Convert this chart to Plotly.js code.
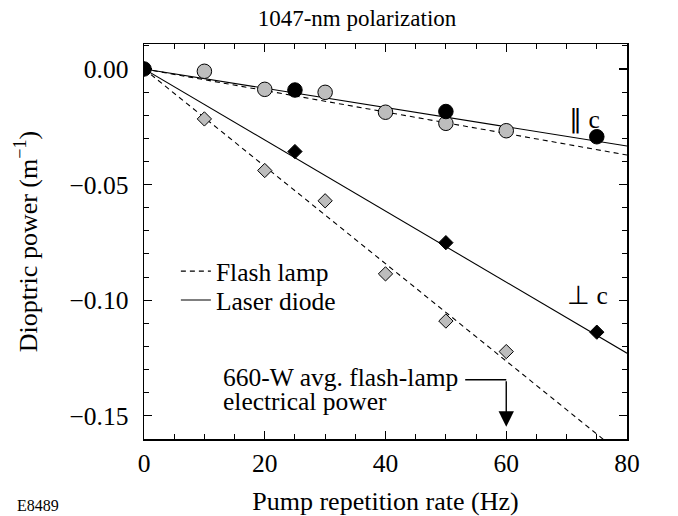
<!DOCTYPE html>
<html>
<head>
<meta charset="utf-8">
<script src="https://cdn.plot.ly/plotly-3.0.1.min.js"></script>
<style>html,body{margin:0;padding:0;background:#fff;}#chart{width:678px;height:516px;}</style>
</head>
<body>
<div id="chart"></div>
<script>
// ---- data ----
const flashParX = [10, 20, 30, 40, 50, 60];
const flashParY = [-0.0010, -0.0088, -0.0101, -0.0187, -0.0235, -0.0267];
const laserParX = [0, 25, 50, 75];
const laserParY = [0.0000, -0.0091, -0.0184, -0.0293];
const flashPerpX = [10, 20, 30, 40, 50, 60];
const flashPerpY = [-0.0216, -0.0439, -0.0570, -0.0886, -0.1090, -0.1222];
const laserPerpX = [0, 25, 50, 75];
const laserPerpY = [0.0000, -0.0357, -0.0751, -0.1138];
// fitted lines (endpoints)
const fitX = [0, 80];
const fitFlashParY = [0, -0.0372];
const fitLaserParY = [0, -0.0333];
const fitFlashPerpY = [0, -0.1684];
const fitLaserPerpY = [0, -0.1229];
const xTicks = [0, 20, 40, 60, 80];
const yTicks = [0, -0.05, -0.10, -0.15];

const serif = 'Liberation Serif';
const gray = '#bdbdbd';
const FS = 25.5;

const traces = [
  {x: fitX, y: fitFlashPerpY, mode: 'lines', name: 'Flash lamp', legend: 'legend',
   line: {color: '#000', width: 1.1, dash: '5px,4px'}, hoverinfo: 'skip'},
  {x: fitX, y: fitLaserPerpY, mode: 'lines', name: 'Laser diode', legend: 'legend2',
   line: {color: '#000', width: 1.1}, hoverinfo: 'skip'},
  {x: fitX, y: fitFlashParY, mode: 'lines', showlegend: false,
   line: {color: '#000', width: 1.1, dash: '5px,4px'}},
  {x: fitX, y: fitLaserParY, mode: 'lines', showlegend: false,
   line: {color: '#000', width: 1.1}},
  {x: flashParX, y: flashParY, mode: 'markers', showlegend: false,
   marker: {symbol: 'circle', size: 14.5, color: gray, line: {color: '#000', width: 1}}},
  {x: laserParX, y: laserParY, mode: 'markers', showlegend: false,
   marker: {symbol: 'circle', size: 14.5, color: '#000', line: {color: '#000', width: 1}}},
  {x: flashPerpX, y: flashPerpY, mode: 'markers', showlegend: false,
   marker: {symbol: 'diamond', size: 11, color: gray, line: {color: '#000', width: 1}}},
  {x: laserPerpX, y: laserPerpY, mode: 'markers', showlegend: false,
   marker: {symbol: 'diamond', size: 11, color: '#000', line: {color: '#000', width: 1}}}
];

const axisCommon = {
  showline: true, linecolor: '#000', linewidth: 1.5, mirror: 'allticks',
  ticks: 'inside', ticklen: 8, tickwidth: 1.2, tickcolor: '#000',
  showgrid: false, zeroline: false,
  tickfont: {family: serif, size: FS, color: '#000'}
};

const legendCommon = {xanchor: 'left', yanchor: 'middle', bgcolor: 'rgba(0,0,0,0)',
  font: {family: serif, size: FS, color: '#000'}, itemwidth: 30, borderwidth: 0};

const layout = {
  width: 678, height: 516,
  margin: {l: 144, r: 51, t: 44, b: 77},
  paper_bgcolor: '#fff', plot_bgcolor: '#fff',
  font: {family: serif, color: '#000', size: FS},
  title: {text: '1047-nm polarization', font: {family: serif, size: 23, color: '#000'},
          x: 357/678, xanchor: 'center', y: 0.965, yanchor: 'middle'},
  xaxis: Object.assign({}, axisCommon, {
    range: [0, 80], tickvals: xTicks, ticklabelstandoff: 1,
    minor: {dtick: 5, tick0: 0, ticks: 'inside', ticklen: 5, tickwidth: 1, tickcolor: '#000'},
    title: {text: 'Pump repetition rate (Hz)', font: {family: serif, size: 26, color: '#000'}, standoff: 14}
  }),
  yaxis: Object.assign({}, axisCommon, {
    range: [-0.160, 0.0108], tickvals: yTicks, tickformat: '.2f', ticklabelstandoff: 9,
    minor: {dtick: 0.01, tick0: 0, ticks: 'inside', ticklen: 5, tickwidth: 1, tickcolor: '#000'},
    title: {text: 'Dioptric power (m<sup>\u22121</sup>)', font: {family: serif, size: 26, color: '#000'}, standoff: 24}
  }),
  showlegend: true,
  legend: Object.assign({}, legendCommon, {x: 0.066, y: 0.424}),
  legend2: Object.assign({}, legendCommon, {x: 0.066, y: 0.351}),
  annotations: [
    {x: 72.9, y: -0.022, xref: 'x', yref: 'y', text: '\u2225 c', showarrow: false,
     font: {family: serif, size: FS, color: '#000'}},
    {x: 73.5, y: -0.098, xref: 'x', yref: 'y', text: '\u22a5 c', showarrow: false,
     font: {family: serif, size: FS, color: '#000'}},
    {x: 0.159, xref: 'paper', y: -0.1332, yref: 'y', xanchor: 'left', yanchor: 'middle', align: 'left',
     text: '660-W avg. flash-lamp', showarrow: false,
     font: {family: serif, size: FS, color: '#000'}},
    {x: 0.159, xref: 'paper', y: -0.1437, yref: 'y', xanchor: 'left', yanchor: 'middle', align: 'left',
     text: 'electrical power', showarrow: false,
     font: {family: serif, size: FS, color: '#000'}},
    {x: 60, y: -0.1547, xref: 'x', yref: 'y', ax: 60, ay: -0.1344, axref: 'x', ayref: 'y',
     showarrow: true, arrowhead: 2, arrowsize: 2.2, arrowwidth: 1.4, arrowcolor: '#000', text: ''},
    {x: 0, y: 0, xref: 'paper', yref: 'paper', xshift: -144 + 15, yshift: -77,
     xanchor: 'left', yanchor: 'bottom', text: 'E8489', showarrow: false,
     font: {family: serif, size: 16, color: '#000'}}
  ],
  shapes: [
    {type: 'line', xref: 'x', yref: 'y', x0: 53.2, x1: 60, y0: -0.1344, y1: -0.1344,
     line: {color: '#000', width: 1.4}}
  ]
};

Plotly.newPlot('chart', traces, layout, {displayModeBar: false, staticPlot: true});
</script>
</body>
</html>
